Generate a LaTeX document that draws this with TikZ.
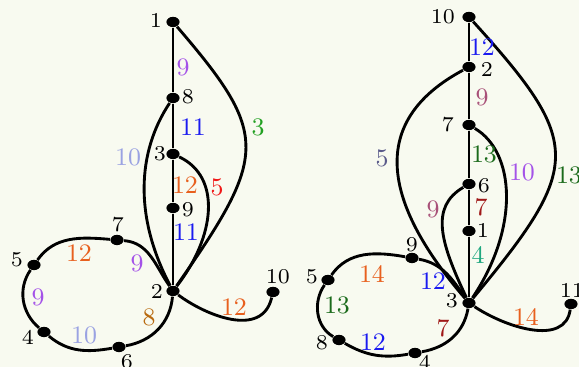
\documentclass[tikz,border=0pt]{standalone}
\usetikzlibrary{shapes.geometric}
\definecolor{bg}{HTML}{F8FAF0}
\definecolor{cviolet}{HTML}{A452E8}
\definecolor{cblue}{HTML}{1A1AF0}
\definecolor{cgreen}{HTML}{22A022}
\definecolor{clav}{HTML}{9AA2E2}
\definecolor{corange}{HTML}{E8601E}
\definecolor{cred}{HTML}{F01818}
\definecolor{cbrown}{HTML}{B86A10}
\definecolor{cmauve}{HTML}{A85078}
\definecolor{cdkgreen}{HTML}{1A6A1A}
\definecolor{cdkred}{HTML}{A01818}
\definecolor{cteal}{HTML}{20A880}
\definecolor{cslate}{HTML}{5A5A8A}
\begin{document}
\begin{tikzpicture}[x=0.35pt,y=0.35pt,
  dot/.style={ellipse,fill=black,minimum width=4.6pt,minimum height=3.6pt,inner sep=0pt},
  nl/.style={font=\fontsize{7.4}{8}\selectfont,inner sep=0pt},
  el/.style={font=\fontsize{8.8}{10}\selectfont,inner sep=0pt},
  edge/.style={line width=1pt}]
\useasboundingbox (0,0) rectangle (579,367);
\clip (0,0) rectangle (579,367);
\fill[bg] (0,0) rectangle (579,367);

% ---------- left graph ----------
\node[dot] (L1) at (173,345) {};
\node[dot] (L8) at (173,269) {};
\node[dot] (L3) at (173,213) {};
\node[dot] (L9) at (173,159) {};
\node[dot] (L2) at (173,76) {};
\node[dot] (L7) at (117,127) {};
\node[dot] (L5) at (34,102) {};
\node[dot] (L4) at (44,35) {};
\node[dot] (L6) at (119,20) {};
\node[dot] (L10) at (273,75) {};

\node[nl] (tL1) at (156,347) {1};
\node[nl] (tL8) at (188,270) {8};
\node[nl] (tL3) at (160,213) {3};
\node[nl] (tL9) at (188,157) {9};
\node[nl] (tL2) at (157,76) {2};
\node[nl] (tL7) at (118,142) {7};
\node[nl] (tL5) at (17,107) {5};
\node[nl] (tL4) at (28,30) {4};
\node[nl] (tL6) at (127,5) {6};
\node[nl] (tL10) at (278,90) {10};

\draw[edge] (L1) -- (L8);
\draw[edge] (L8) -- (L3);
\draw[edge] (L3) -- (L9);
\draw[edge] (L9) -- (L2);
\draw[edge] (L1) .. controls (270,232) and (268,212) .. (L2);
\draw[edge] (L8) .. controls (137,215) and (134,150) .. (L2);
\draw[edge] (L3) .. controls (222,190) and (215,130) .. (L2);
\draw[edge] (L2) to[out=125,in=-5] (L7);
\draw[edge] (L7) to[out=175,in=55] (L5);
\draw[edge] (L5) to[out=235,in=140] (L4);
\draw[edge] (L4) to[out=320,in=190] (L6);
\draw[edge] (L6) to[out=10,in=-95] (L2);
\draw[edge] (L2) .. controls (205,52) and (262,28) .. (L10);

\node[el,text=cviolet] (eL18) at (183,300) {9};
\node[el,text=cblue] (eL83) at (193,240) {11};
\node[el,text=corange] (eL39) at (185,182) {12};
\node[el,text=cblue] (eL92) at (186,135) {11};
\node[el,text=cgreen] (eL12) at (258,240) {3};
\node[el,text=clav] (eL82) at (128,210) {10};
\node[el,text=cred] (eL32) at (217,180) {5};
\node[el,text=cviolet] (eL27) at (137,104) {9};
\node[el,text=corange] (eL75) at (79,114) {12};
\node[el,text=cviolet] (eL54) at (38,70) {9};
\node[el,text=clav] (eL46) at (84,32) {10};
\node[el,text=cbrown] (eL62) at (149,50) {8};
\node[el,text=corange] (eL210) at (234,60) {12};

% ---------- right graph ----------
\node[dot] (R10) at (469,350) {};
\node[dot] (R2) at (469,300) {};
\node[dot] (R7) at (469,242) {};
\node[dot] (R6) at (469,183) {};
\node[dot] (R1) at (469,136) {};
\node[dot] (R3) at (469,64) {};
\node[dot] (R9) at (412,109) {};
\node[dot] (R5) at (328,87) {};
\node[dot] (R8) at (339,27) {};
\node[dot] (R4) at (415,14) {};
\node[dot] (R11) at (571,63) {};

\node[nl] (tR10) at (443,350) {10};
\node[nl] (tR2) at (487,298) {2};
\node[nl] (tR7) at (448,242) {7};
\node[nl] (tR6) at (484,181) {6};
\node[nl] (tR1) at (483,137) {1};
\node[nl] (tR3) at (452,66) {3};
\node[nl] (tR9) at (412,122) {9};
\node[nl] (tR5) at (312,90) {5};
\node[nl] (tR8) at (322,24) {8};
\node[nl] (tR4) at (425,5) {4};
\node[nl] (tR11) at (572,77) {11};

\draw[edge] (R10) -- (R2);
\draw[edge] (R2) -- (R7);
\draw[edge] (R7) -- (R6);
\draw[edge] (R6) -- (R1);
\draw[edge] (R1) -- (R3);
\draw[edge] (R10) .. controls (583,224) and (583,201) .. (R3);
\draw[edge] (R2) .. controls (385,255) and (365,185) .. (R3);
\draw[edge] (R7) .. controls (515,215) and (520,140) .. (R3);
\draw[edge] (R6) .. controls (430,160) and (440,125) .. (R3);
\draw[edge] (R3) to[out=125,in=-10] (R9);
\draw[edge] (R9) to[out=170,in=55] (R5);
\draw[edge] (R5) to[out=235,in=150] (R8);
\draw[edge] (R8) to[out=330,in=190] (R4);
\draw[edge] (R4) to[out=10,in=-100] (R3);
\draw[edge] (R3) .. controls (505,40) and (565,20) .. (R11);

\node[el,text=cblue] (eR102) at (482,320) {12};
\node[el,text=cmauve] (eR27) at (482,270) {9};
\node[el,text=cdkgreen] (eR76) at (484,213) {13};
\node[el,text=cdkred] (eR61) at (481,160) {7};
\node[el,text=cteal] (eR13) at (478,112) {4};
\node[el,text=cdkgreen] (eR103) at (569,192) {13};
\node[el,text=cslate] (eR23) at (382,209) {5};
\node[el,text=cviolet] (eR73) at (522,195) {10};
\node[el,text=cmauve] (eR63) at (433,158) {9};
\node[el,text=cblue] (eR39) at (433,86) {12};
\node[el,text=corange] (eR95) at (372,93) {14};
\node[el,text=cdkgreen] (eR58) at (337,62) {13};
\node[el,text=cblue] (eR84) at (373,25) {12};
\node[el,text=cdkred] (eR43) at (443,39) {7};
\node[el,text=corange] (eR311) at (526,50) {14};
\end{tikzpicture}
\end{document}
